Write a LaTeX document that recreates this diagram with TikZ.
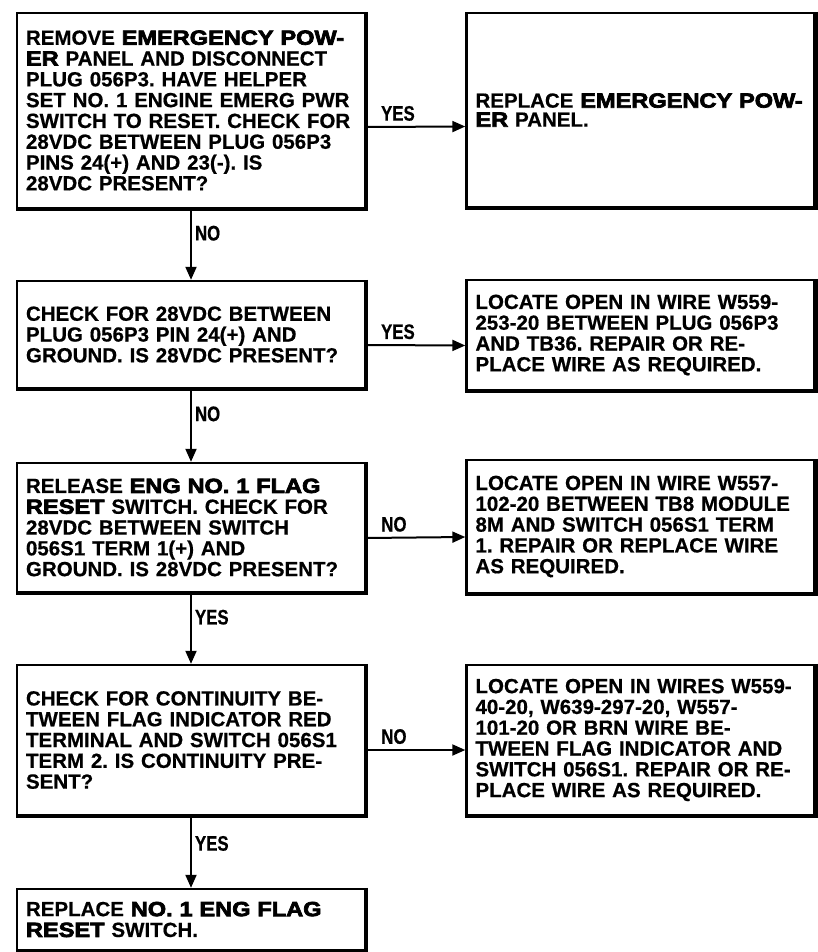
\documentclass[tikz,border=0pt]{standalone}
\usepackage{fontspec}
\setmainfont{Liberation Sans Bold}[FakeBold=0.6]
\newfontfamily\heavyfont{Liberation Sans Bold}[FakeBold=3.5, FakeStretch=1.15]
\newfontfamily\labelfont{Liberation Sans Bold}[FakeStretch=0.8, FakeBold=0.6]
\usetikzlibrary{arrows.meta}
\newcommand{\hv}[1]{{\heavyfont #1}}
\frenchspacing

\begin{document}
\begin{tikzpicture}[x=1pt, y=-1pt,
  stepbox/.style={draw, line width=2.4pt, align=left, inner xsep=9pt, inner ysep=0pt,
    text width=330pt, minimum height=#1, font=\fontsize{20.5}{20.8}\selectfont},
  arrowline/.style={line width=2pt, -{Triangle[length=13pt,width=11pt]}},
  flowlabel/.style={font=\labelfont\fontsize{21}{21}\selectfont, inner sep=1pt}]

\useasboundingbox (0,0) rectangle (817,952);

% left column: checks
\node[stepbox=195pt] (remove) at (191,110.5) {REMOVE \hv{EMERGENCY POW-}\\ \hv{ER} PANEL AND DISCONNECT\\ PLUG 056P3. HAVE HELPER\\ SET NO. 1 ENGINE EMERG PWR\\ SWITCH TO RESET. CHECK FOR\\ 28VDC BETWEEN PLUG 056P3\\ PINS 24(+) AND 23(-). IS\\ 28VDC PRESENT?};
\node[stepbox=107pt] (ground) at (191,334.5) {CHECK FOR 28VDC BETWEEN\\ PLUG 056P3 PIN 24(+) AND\\ GROUND. IS 28VDC PRESENT?};
\node[stepbox=129pt] (release) at (191,527.5) {RELEASE \hv{ENG NO. 1 FLAG}\\ \hv{RESET} SWITCH. CHECK FOR\\ 28VDC BETWEEN SWITCH\\ 056S1 TERM 1(+) AND\\ GROUND. IS 28VDC PRESENT?};
\node[stepbox=150pt] (contin) at (191,740) {CHECK FOR CONTINUITY BE-\\ TWEEN FLAG INDICATOR RED\\ TERMINAL AND SWITCH 056S1\\ TERM 2. IS CONTINUITY PRE-\\ SENT?};
\node[stepbox=61pt] (switch) at (191,919.5) {REPLACE \hv{NO. 1 ENG FLAG}\\ \hv{RESET} SWITCH.};

% right column: repairs
\node[stepbox=194pt, font=\fontsize{20.5}{19}\selectfont] (panel) at (640.5,110) {REPLACE \hv{EMERGENCY POW-}\\ \hv{ER} PANEL.};
\node[stepbox=110pt] (wireA) at (640.5,335) {LOCATE OPEN IN WIRE W559-\\ 253-20 BETWEEN PLUG 056P3\\ AND TB36. REPAIR OR RE-\\ PLACE WIRE AS REQUIRED.};
\node[stepbox=133pt] (wireB) at (640.5,526.5) {LOCATE OPEN IN WIRE W557-\\ 102-20 BETWEEN TB8 MODULE\\ 8M AND SWITCH 056S1 TERM\\ 1. REPAIR OR REPLACE WIRE\\ AS REQUIRED.};
\node[stepbox=150pt] (wireC) at (640.5,740) {LOCATE OPEN IN WIRES W559-\\ 40-20, W639-297-20, W557-\\ 101-20 OR BRN WIRE BE-\\ TWEEN FLAG INDICATOR AND\\ SWITCH 056S1. REPAIR OR RE-\\ PLACE WIRE AS REQUIRED.};

% heavy lower and right edges
\foreach \n in {remove,ground,release,contin,switch,panel,wireA,wireB,wireC}
  \draw[line width=4.5pt] (\n.north east) -- (\n.south east) -- (\n.south west);

% vertical flow
\draw[arrowline] (remove.south) -- node[flowlabel, pos=0.34, right=2pt] {NO} (ground.north);
\draw[arrowline] (ground.south) -- node[flowlabel, pos=0.34, right=2pt] {NO} (release.north);
\draw[arrowline] (release.south) -- node[flowlabel, pos=0.34, right=2pt] {YES} (contin.north);
\draw[arrowline] (contin.south) -- node[flowlabel, pos=0.38, right=2pt] {YES} (switch.north);

% horizontal flow
\draw[arrowline] ([yshift=-16.5pt]remove.east) -- node[flowlabel, pos=0.32, above=4pt] {YES} ([yshift=-16.5pt]panel.west);
\draw[arrowline] ([yshift=-10.5pt]ground.east) -- node[flowlabel, pos=0.32, above=4pt] {YES} ([yshift=-10.5pt]wireA.west);
\draw[arrowline] ([yshift=-10.5pt]release.east) -- node[flowlabel, pos=0.28, above=4pt] {NO} ([yshift=-10.5pt]wireB.west);
\draw[arrowline] ([yshift=-10pt]contin.east) -- node[flowlabel, pos=0.28, above=4pt] {NO} ([yshift=-10pt]wireC.west);

\end{tikzpicture}
\end{document}
